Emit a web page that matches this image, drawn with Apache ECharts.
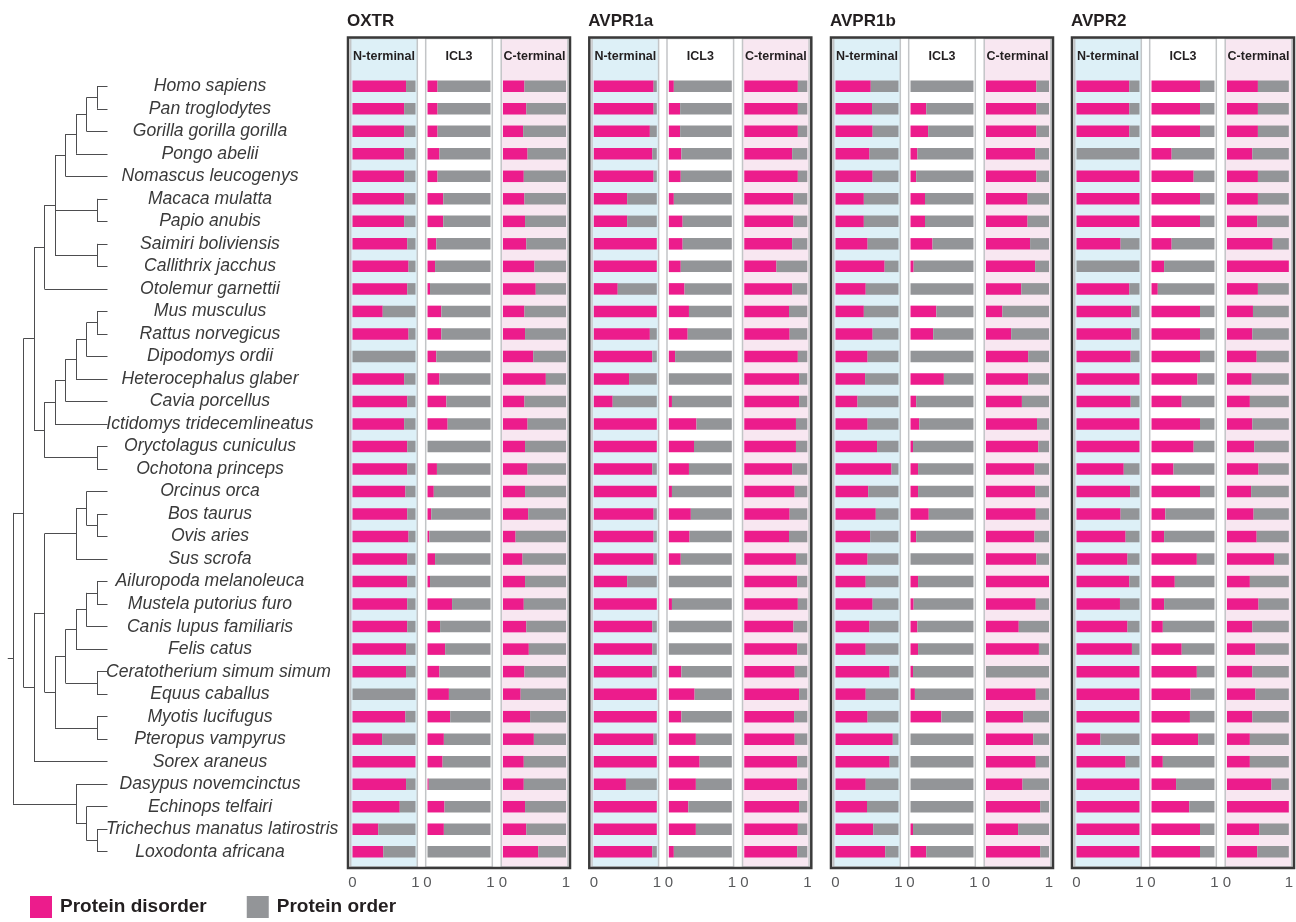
<!DOCTYPE html>
<html><head><meta charset="utf-8">
<script src="https://cdn.jsdelivr.net/npm/echarts@6/dist/echarts.min.js"></script>
<style>html,body{margin:0;padding:0;background:#fff}#c{width:1296px;height:922px}</style>
</head><body><div id="c"></div>
<script>
const species = ['Homo sapiens','Pan troglodytes','Gorilla gorilla gorilla','Pongo abelii','Nomascus leucogenys',
 'Macaca mulatta','Papio anubis','Saimiri boliviensis','Callithrix jacchus','Otolemur garnettii',
 'Mus musculus','Rattus norvegicus','Dipodomys ordii','Heterocephalus glaber','Cavia porcellus',
 'Ictidomys tridecemlineatus','Oryctolagus cuniculus','Ochotona princeps','Orcinus orca','Bos taurus',
 'Ovis aries','Sus scrofa','Ailuropoda melanoleuca','Mustela putorius furo','Canis lupus familiaris',
 'Felis catus','Ceratotherium simum simum','Equus caballus','Myotis lucifugus','Pteropus vampyrus',
 'Sorex araneus','Dasypus novemcinctus','Echinops telfairi','Trichechus manatus latirostris','Loxodonta africana'];
const receptors = ['OXTR','AVPR1a','AVPR1b','AVPR2'];
const regions = ['N-terminal','ICL3','C-terminal'];
const seriesNames = ['Protein disorder','Protein order'];

// disorder fraction per species (order = remainder to 1)
const OXTR_N = [0.85,0.82,0.82,0.82,0.82, 0.82,0.82,0.87,0.89,0.87, 0.48,0.89,0,0.82,0.87, 0.82,0.87,0.87,0.84,0.87, 0.89,0.87,0.87,0.87,0.87, 0.85,0.85,0,0.84,0.47, 1.0,0.85,0.75,0.41,0.49];
const OXTR_ICL3 = [0.16,0.16,0.16,0.19,0.16, 0.25,0.25,0.14,0.12,0.04, 0.22,0.22,0.14,0.19,0.30, 0.32,0,0.15,0.10,0.06, 0.03,0.12,0.04,0.39,0.20, 0.28,0.19,0.34,0.36,0.26, 0.24,0.02,0.27,0.26,0];
const OXTR_C = [0.34,0.37,0.32,0.39,0.33, 0.34,0.35,0.37,0.50,0.52, 0.34,0.35,0.48,0.68,0.34, 0.39,0.35,0.39,0.35,0.40, 0.20,0.31,0.35,0.33,0.37, 0.41,0.34,0.28,0.43,0.49, 0.33,0.33,0.35,0.37,0.56];
const AVPR1a_N = [0.95,0.95,0.89,0.93,0.95, 0.53,0.53,1,1,0.38, 1,0.89,0.93,0.56,0.30, 1,1,0.93,1,0.95, 0.95,0.95,0.53,1,0.93, 0.93,0.93,1,1,0.95, 1,0.51,1,1,0.93];
const AVPR1a_ICL3 = [0.08,0.18,0.18,0.20,0.19, 0.08,0.22,0.22,0.19,0.25, 0.32,0.30,0.10,0,0.05, 0.44,0.40,0.32,0.05,0.35, 0.33,0.19,0,0.05,0, 0,0.20,0.41,0.20,0.43, 0.49,0.43,0.31,0.43,0.08];
const AVPR1a_C = [0.85,0.85,0.85,0.76,0.85, 0.78,0.78,0.76,0.51,0.76, 0.71,0.72,0.85,0.87,0.87, 0.82,0.82,0.76,0.80,0.72, 0.71,0.82,0.84,0.85,0.78, 0.84,0.80,0.87,0.79,0.80, 0.84,0.84,0.87,0.85,0.84];
const AVPR1b_N = [0.56,0.58,0.59,0.54,0.59, 0.45,0.45,0.51,0.78,0.48, 0.45,0.59,0.51,0.47,0.35, 0.51,0.66,0.89,0.52,0.64, 0.55,0.51,0.48,0.59,0.54, 0.48,0.86,0.48,0.51,0.91, 0.86,0.48,0.50,0.60,0.79];
const AVPR1b_ICL3 = [0,0.25,0.28,0.11,0.09, 0.23,0.23,0.35,0.05,0, 0.41,0.36,0,0.53,0.09, 0.14,0.04,0.12,0.12,0.29, 0.09,0,0.12,0.05,0.11, 0.12,0.04,0.07,0.49,0, 0,0,0,0.04,0.25];
const AVPR1b_C = [0.80,0.80,0.80,0.78,0.80, 0.66,0.66,0.70,0.78,0.56, 0.26,0.40,0.67,0.67,0.57, 0.81,0.83,0.77,0.78,0.79, 0.77,0.80,1.0,0.79,0.52, 0.84,0,0.79,0.59,0.75, 0.79,0.58,0.86,0.51,0.86];
const AVPR2_N = [0.84,0.84,0.84,0,1, 1,1,0.70,0,0.84, 0.87,0.87,0.86,1,0.86, 1,1,0.75,0.85,0.70, 0.78,0.81,0.84,0.69,0.81, 0.88,1,1,1,0.38, 0.78,1,1,1,1];
const AVPR2_ICL3 = [0.77,0.77,0.77,0.32,0.67, 0.77,0.77,0.32,0.20,0.10, 0.77,0.77,0.77,0.73,0.48, 0.77,0.67,0.35,0.77,0.22, 0.20,0.72,0.37,0.20,0.18, 0.48,0.72,0.62,0.61,0.74, 0.18,0.39,0.60,0.77,0.77];
const AVPR2_C = [0.50,0.50,0.50,0.41,0.50, 0.50,0.49,0.74,1.0,0.50, 0.42,0.41,0.48,0.40,0.37, 0.41,0.44,0.51,0.39,0.43, 0.48,0.76,0.37,0.51,0.41, 0.46,0.41,0.46,0.41,0.37, 0.37,0.72,1.0,0.52,0.49];

// cladogram: [nodeLevel, child, child, ...]; leaves are species names (level 10)
const tree = [1,
  [2,
    [3,
      [4,
        [5,
          [6, [7, [8, [9, 'Homo sapiens', 'Pan troglodytes'], 'Gorilla gorilla gorilla'], 'Pongo abelii'], 'Nomascus leucogenys'],
          [9, 'Macaca mulatta', 'Papio anubis'],
          [9, 'Saimiri boliviensis', 'Callithrix jacchus']
        ],
        'Otolemur garnettii'
      ],
      [4,
        [5, [6, [7, [8, [9, 'Mus musculus', 'Rattus norvegicus'], 'Dipodomys ordii'], 'Heterocephalus glaber'], 'Cavia porcellus'], 'Ictidomys tridecemlineatus'],
        [9, 'Oryctolagus cuniculus', 'Ochotona princeps']
      ]
    ],
    [3,
      [4,
        [7, [8, 'Orcinus orca', [9, 'Bos taurus', 'Ovis aries']], 'Sus scrofa'],
        [5,
          [6, [7, [8, [9, 'Ailuropoda melanoleuca', 'Mustela putorius furo'], 'Canis lupus familiaris'], 'Felis catus'], [9, 'Ceratotherium simum simum', 'Equus caballus']],
          [9, 'Myotis lucifugus', 'Pteropus vampyrus']
        ]
      ],
      'Sorex araneus'
    ]
  ],
  [7, 'Dasypus novemcinctus', [8, 'Echinops telfairi', [9, 'Trichechus manatus latirostris', 'Loxodonta africana']]]
];
const rootStubLevel = 0.5;
const leafLevel = 10;

const dataSets = [
  [OXTR_N, OXTR_ICL3, OXTR_C],
  [AVPR1a_N, AVPR1a_ICL3, AVPR1a_C],
  [AVPR1b_N, AVPR1b_ICL3, AVPR1b_C],
  [AVPR2_N, AVPR2_ICL3, AVPR2_C]
];

// ---------- layout ----------
const FONT = 'Liberation Sans, Arial, sans-serif';
const MAGENTA = '#EC1C8C', GREY = '#939598';
const panelLeft = [348, 589.3, 831, 1072];
const panelWidth = 222;
const subOff = [4.5, 79.5, 155];
const subW = 63;
const gridTop = 75, gridH = 788;
const frameTop = 37.5, frameBottom = 868;
const bgColors = ['#DDF0F7', '#FFFFFF', '#F8E7F1'];

const grids = [], xAxes = [], yAxes = [], series = [], graphics = [];

receptors.forEach((rec, p) => {
  const L = panelLeft[p];
  regions.forEach((reg, r) => {
    const gi = grids.length;
    const x0 = L + subOff[r];
    grids.push({left: x0, top: gridTop, width: subW, height: gridH, containLabel: false});
    xAxes.push({type: 'value', gridIndex: gi, min: 0, max: 1, interval: 1,
      axisLine: {show: false}, axisTick: {show: false}, splitLine: {show: false},
      axisLabel: {show: true, fontSize: 15, color: '#58595b', margin: 12, fontFamily: FONT}});
    yAxes.push({type: 'category', gridIndex: gi, data: species, inverse: true, show: false});
    const vals = dataSets[p][r];
    series.push({type: 'bar', name: seriesNames[0], xAxisIndex: gi, yAxisIndex: gi, stack: 's' + gi,
      barWidth: 11.5, itemStyle: {color: MAGENTA}, silent: true, data: vals});
    series.push({type: 'bar', name: seriesNames[1], xAxisIndex: gi, yAxisIndex: gi, stack: 's' + gi,
      barWidth: 11.5, itemStyle: {color: GREY}, silent: true, data: vals.map(v => +(1 - v).toFixed(3))});
    graphics.push({type: 'rect', z: -10, silent: true,
      shape: {x: x0 - 1.8, y: frameTop + 1, width: subW + 3.6, height: frameBottom - frameTop - 2},
      style: {fill: bgColors[r], stroke: '#c3c5c7', lineWidth: 1.5}});
    graphics.push({type: 'text', z: 5, silent: true, x: x0 + subW / 2, y: 56.5,
      style: {text: reg, fill: '#231f20', font: 'bold 12.5px ' + FONT, align: 'center', verticalAlign: 'middle'}});
  });
  graphics.push({type: 'rect', z: 10, silent: true,
    shape: {x: L, y: frameTop, width: panelWidth, height: frameBottom - frameTop},
    style: {fill: 'none', stroke: '#3a3a3a', lineWidth: 2.5}});
  graphics.push({type: 'text', z: 5, silent: true, x: L - 1, y: 21,
    style: {text: rec, fill: '#231f20', font: 'bold 17px ' + FONT, align: 'left', verticalAlign: 'middle'}});
});

// species label placement: centred, pushed right when it would run into the tree
const LABEL_SIZE = 17.6;
const labelFont = 'italic ' + LABEL_SIZE + 'px ' + FONT;
const meas = document.createElement('canvas').getContext('2d');
meas.font = labelFont;
const treeRight = 107.5, labelCentre = 210, minLeft = 106;
const rich = {};
const labelKey = {};
species.forEach((s, i) => {
  const w = meas.measureText(s).width;
  const shift = Math.max(0, minLeft - (labelCentre - w / 2));
  const k = 'k' + i;
  labelKey[s] = k;
  rich[k] = {fontSize: LABEL_SIZE, fontStyle: 'italic', color: '#3a3a3a', fontFamily: FONT, padding: [0, 0, 0, 2 * shift]};
});

// tree grid
const tg = grids.length;
grids.push({left: 2.5, top: gridTop, width: 105, height: gridH});
xAxes.push({type: 'value', gridIndex: tg, min: 0, max: 10, show: false});
const yValIdx = yAxes.length;
yAxes.push({type: 'value', gridIndex: tg, min: -0.5, max: species.length - 0.5, inverse: true, show: false});
const yCatIdx = yAxes.length;
yAxes.push({type: 'category', gridIndex: tg, position: 'right', data: species, inverse: true,
  axisLine: {show: false}, axisTick: {show: false}, splitLine: {show: false},
  axisLabel: {interval: 0, align: 'center', margin: labelCentre - treeRight, fontSize: LABEL_SIZE, fontStyle: 'italic',
    color: '#3a3a3a', fontFamily: FONT, rich: rich,
    formatter: v => '{' + labelKey[v] + '|' + v + '}'}});

const segs = [];
function lay(node) {
  if (typeof node === 'string') return {y: species.indexOf(node), level: leafLevel};
  const level = node[0];
  const kids = node.slice(1).map(lay);
  const y = (kids[0].y + kids[kids.length - 1].y) / 2;
  segs.push([[level, kids[0].y], [level, kids[kids.length - 1].y]]);
  kids.forEach(k => segs.push([[level, k.y], [k.level, k.y]]));
  return {y, level};
}
const root = lay(tree);
segs.push([[rootStubLevel, root.y], [root.level, root.y]]);

series.push({type: 'lines', coordinateSystem: 'cartesian2d', xAxisIndex: tg, yAxisIndex: yValIdx,
  silent: true, z: 3, lineStyle: {color: '#4d4d4f', width: 1, opacity: 1},
  data: segs.map(s => ({coords: s}))});
series.push({type: 'scatter', xAxisIndex: tg, yAxisIndex: yCatIdx, data: [], silent: true});

const chart = echarts.init(document.getElementById('c'), null, {renderer: 'canvas'});
chart.setOption({
  animation: false,
  backgroundColor: '#ffffff',
  grid: grids, xAxis: xAxes, yAxis: yAxes, series: series,
  graphic: {elements: graphics},
  legend: {data: seriesNames, left: 30, top: 896, padding: 0, icon: 'rect', itemWidth: 22, itemHeight: 22,
    itemGap: 40, selectedMode: false,
    textStyle: {fontSize: 19, fontWeight: 'bold', color: '#231f20', fontFamily: FONT, padding: [0, 0, 0, 3]}}
});
</script></body></html>
